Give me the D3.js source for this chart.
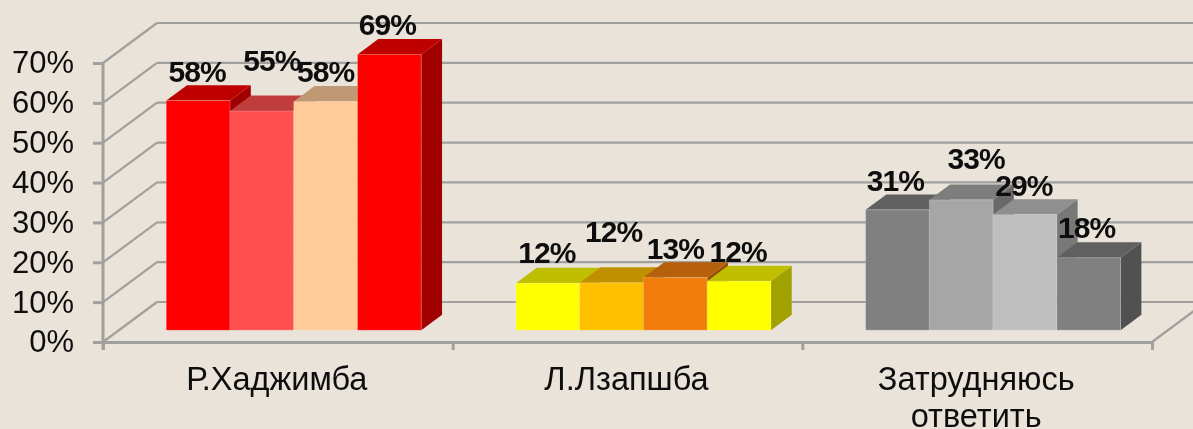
<!DOCTYPE html>
<html>
<head>
<meta charset="utf-8">
<script src="https://cdn.jsdelivr.net/npm/d3@7"></script>
<style>
  html, body { margin: 0; padding: 0; background: #e9e3da; overflow: hidden; }
  text { font-family: "Liberation Sans", Arial, sans-serif; fill: #111; }
</style>
</head>
<body>
<div id="chart"></div>
<script>
// Chart values
let categories = [["Р.Хаджимба"], ["Л.Лзапшба"], ["Затрудняюсь", "ответить"]];
let yTicks = [0, 10, 20, 30, 40, 50, 60, 70];

// measured bar heights, the printed labels do not always round to them
let hadjimba = [57.6, 55, 57.4, 69.2];
let lzapshba = [11.8, 11.9, 13.2, 12.3];
let undecided = [30.2, 32.7, 29, 18.2];

let hadjimbaLabels = ["58%", "55%", "58%", "69%"];
let lzapshbaLabels = ["12%", "12%", "13%", "12%"];
let undecidedLabels = ["31%", "33%", "29%", "18%"];

let hadjimbaColors = ["#ff0000", "#ff5050", "#ffcc99", "#ff0000"];
let lzapshbaColors = ["#ffff00", "#ffc000", "#f27d0a", "#ffff00"];
let undecidedColors = ["#808080", "#a6a6a6", "#bfbfbf", "#808080"];

let groups = [
  {values: hadjimba, labels: hadjimbaLabels, colors: hadjimbaColors},
  {values: lzapshba, labels: lzapshbaLabels, colors: lzapshbaColors},
  {values: undecided, labels: undecidedLabels, colors: undecidedColors}
];

let width = 1193, height = 429;
let gridColor = "#a0a09e";

let svg = d3.select("#chart")
  .append("svg")
  .attr("width", width)
  .attr("height", height)
  .style("display", "block");

// the source is a slightly soft screenshot
let defs = svg.append("defs");
defs.append("filter").attr("id", "soft")
  .append("feGaussianBlur").attr("stdDeviation", 0.6);

let root = svg.append("g").attr("filter", "url(#soft)");

// Front plane scales
let y = d3.scaleLinear().domain([0, 70]).range([342, 63]);
let x = d3.scaleBand().domain(d3.range(3)).range([103, 1152]);
let xEdge = d3.scaleLinear().domain([0, 3]).range([103, 1152]);

// Depth: 0 is the front of the floor, 1 the back wall
let depthX = d3.scaleLinear().domain([0, 1]).range([0, 54]);
let depthY = d3.scaleLinear().domain([0, 1]).range([0, -40]);
let barFront = 0.295, barBack = 0.68;

// Back wall and side wall lines
let grid = root.append("g");
grid.selectAll("line.wall")
  .data(yTicks)
  .enter()
  .append("line")
  .attr("class", "wall")
  .attr("x1", xEdge(0) + depthX(1))
  .attr("x2", xEdge(3) + depthX(1))
  .attr("y1", function(d) { return y(d) + depthY(1); })
  .attr("y2", function(d) { return y(d) + depthY(1); });
grid.selectAll("line.side")
  .data(yTicks)
  .enter()
  .append("line")
  .attr("class", "side")
  .attr("x1", xEdge(0))
  .attr("x2", xEdge(0) + depthX(1))
  .attr("y1", function(d) { return y(d); })
  .attr("y2", function(d) { return y(d) + depthY(1); });
grid.append("line")
  .attr("class", "side")
  .attr("x1", xEdge(3))
  .attr("x2", xEdge(3) + depthX(1))
  .attr("y1", y(0))
  .attr("y2", y(0) + depthY(1));
grid.selectAll("line")
  .attr("stroke", gridColor)
  .attr("stroke-width", 2.2);

// Axes
let yAxis = d3.axisLeft(y)
  .tickValues(yTicks)
  .tickSize(10)
  .tickPadding(19)
  .tickFormat(function(d) { return d + "%"; });
let yG = root.append("g").attr("transform", "translate(103,0)").call(yAxis);
yG.select(".domain").remove();
yG.selectAll("line").attr("stroke", gridColor).attr("stroke-width", 3);
yG.selectAll("text")
  .attr("font-size", 31)
  .attr("fill", "#111")
  .style("font-family", '"Liberation Sans", Arial, sans-serif');

let xAxis = d3.axisBottom(xEdge)
  .tickValues([0, 1, 2, 3])
  .tickSize(8)
  .tickSizeOuter(0)
  .tickFormat("");
let xG = root.append("g").attr("transform", "translate(0," + y(0) + ")").call(xAxis);
xG.select(".domain").attr("stroke", gridColor).attr("stroke-width", 3);
xG.selectAll("line").attr("stroke", gridColor).attr("stroke-width", 3);

root.append("line")
  .attr("x1", xEdge(0)).attr("x2", xEdge(0))
  .attr("y1", y(70)).attr("y2", y(0) + 8)
  .attr("stroke", gridColor)
  .attr("stroke-width", 3);

// Category labels
let catG = root.selectAll("text.cat")
  .data(categories)
  .enter()
  .append("text")
  .attr("class", "cat")
  .attr("text-anchor", "middle")
  .attr("font-size", 32.5);
catG.selectAll("tspan")
  .data(function(d, i) { return d.map(function(t) { return {t: t, g: i}; }); })
  .enter()
  .append("tspan")
  .attr("x", function(d) { return x(d.g) + x.bandwidth() / 2 - 1; })
  .attr("y", function(d, i) { return 390 + i * 37; })
  .text(function(d) { return d.t; });

// Bars, four per group, painted left to right so nearer faces cover the rest
let inner = d3.scaleBand().domain(d3.range(4)).range([0, 255]);

function shade(color, k) {
  let c = d3.rgb(color);
  return d3.rgb(c.r * k, c.g * k, c.b * k).formatHex();
}

function poly(pts) {
  return pts.map(function(p) { return p.join(","); }).join(" ");
}

let depth = barBack - barFront;
let barDx = depthX(depth), barDy = depthY(depth);
let frontDx = depthX(barFront), frontDy = depthY(barFront);

groups.forEach(function(group, g) {
  let left = x(g) + x.bandwidth() / 2 - 127.5 + frontDx;
  let bars = group.values.map(function(v, i) {
    return {
      x0: left + inner(i),
      x1: left + inner(i) + inner.bandwidth(),
      top: y(v) + frontDy,
      base: y(0) + frontDy,
      color: group.colors[i]
    };
  });

  let barG = root.append("g").selectAll("g")
    .data(bars)
    .enter()
    .append("g");

  barG.append("polygon")
    .attr("points", function(d) {
      return poly([[d.x1, d.top], [d.x1 + barDx, d.top + barDy], [d.x1 + barDx, d.base + barDy], [d.x1, d.base]]);
    })
    .attr("fill", function(d) { return shade(d.color, 0.63); });
  barG.append("polygon")
    .attr("points", function(d) {
      return poly([[d.x0, d.top], [d.x0 + barDx, d.top + barDy], [d.x1 + barDx, d.top + barDy], [d.x1, d.top]]);
    })
    .attr("fill", function(d) { return shade(d.color, 0.75); });
  barG.append("rect")
    .attr("x", function(d) { return d.x0; })
    .attr("y", function(d) { return d.top; })
    .attr("width", inner.bandwidth())
    .attr("height", function(d) { return d.base - d.top; })
    .attr("fill", function(d) { return d.color; })
    .attr("stroke", "#fff")
    .attr("stroke-opacity", 0.2)
    .attr("stroke-width", 1);
});

// Data labels sit on top of everything, the second bar of each group is
// lifted and moved right in the source
let labelLift = [[19, 40, 19, 19], [20, 41, 19, 19], [19, 31, 19, 20]];
let labelShift = [[-1, 10, 0, -2], [-1, 2, 0, -1], [-2, 15, -1, -2]];

groups.forEach(function(group, g) {
  let left = x(g) + x.bandwidth() / 2 - 127.5 + frontDx;
  root.append("g").selectAll("text")
    .data(group.labels)
    .enter()
    .append("text")
    .attr("text-anchor", "middle")
    .attr("font-size", 30)
    .attr("font-weight", "bold")
    .attr("letter-spacing", -0.9)
    .attr("fill", "#000")
    .attr("x", function(d, i) { return left + inner(i) + inner.bandwidth() / 2 + labelShift[g][i]; })
    .attr("y", function(d, i) { return y(group.values[i]) + frontDy - labelLift[g][i]; })
    .text(function(d) { return d; });
});
</script>
</body>
</html>
